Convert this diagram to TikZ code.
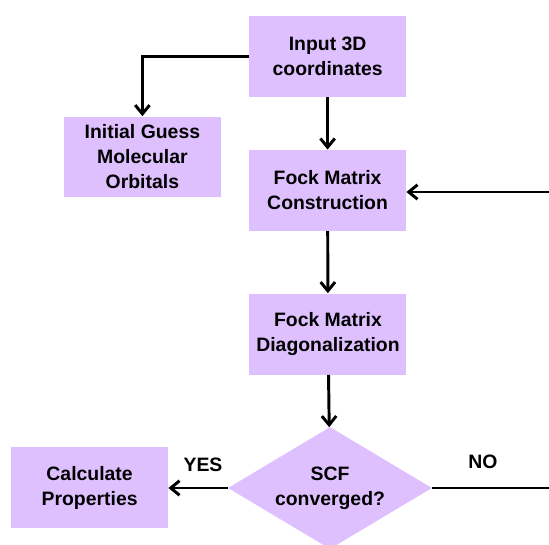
\documentclass[tikz,border=0pt]{standalone}
\usepackage{fontspec}
\setmainfont{Liberation Sans}
\usetikzlibrary{shapes.geometric,arrows.meta}

\definecolor{lavender}{RGB}{223,192,255}

\begin{document}
\begin{tikzpicture}[
  box/.style={fill=lavender, minimum width=3.925cm, minimum height=2.025cm,
    align=center, inner sep=0pt},
  test/.style={diamond, fill=lavender, minimum width=5.1cm, minimum height=3.05cm,
    aspect=1.67, align=center, inner sep=0pt},
  flow/.style={line width=2.1pt, -{Straight Barb[length=0.22cm, width=0.36cm, line width=2.1pt]}},
  every node/.style={font=\fontsize{13.8}{17.8}\selectfont\bfseries}
]

\useasboundingbox (0,0) rectangle (13.725,-13.625);

% Steps
\node[box] (input) at (8.19,-1.41) {Input 3D\\coordinates};
\node[box] (guess) at (3.56,-3.925) {Initial Guess\\Molecular\\Orbitals};
\node[box] (build) at (8.19,-4.76) {Fock Matrix\\Construction};
\node[box] (diag) at (8.2,-8.35) {Fock Matrix\\Diagonalization};
\node[test] (scf) at (8.25,-12.2) {SCF\\converged?};
\node[box] (props) at (2.24,-12.2) {Calculate\\Properties};

% Loop ends at the right edge
\coordinate (back) at (13.725,-4.8);
\coordinate (out) at (13.725,-12.2);

% Arrows
\draw[flow] (input.west) -| (guess.north);
\draw[flow] (input) -- (build);
\draw[flow] (build) -- (diag);
\draw[flow] (diag) -- (scf);
\draw[flow] (scf.west) -- (props.east);
\draw[line width=2.1pt] (scf.east) -- (out);
\draw[flow] (back) -- (build.east |- back);

% Answers
\node (yes) at (5.075,-11.625) {YES};
\node (no) at (12.075,-11.55) {NO};

\end{tikzpicture}
\end{document}
